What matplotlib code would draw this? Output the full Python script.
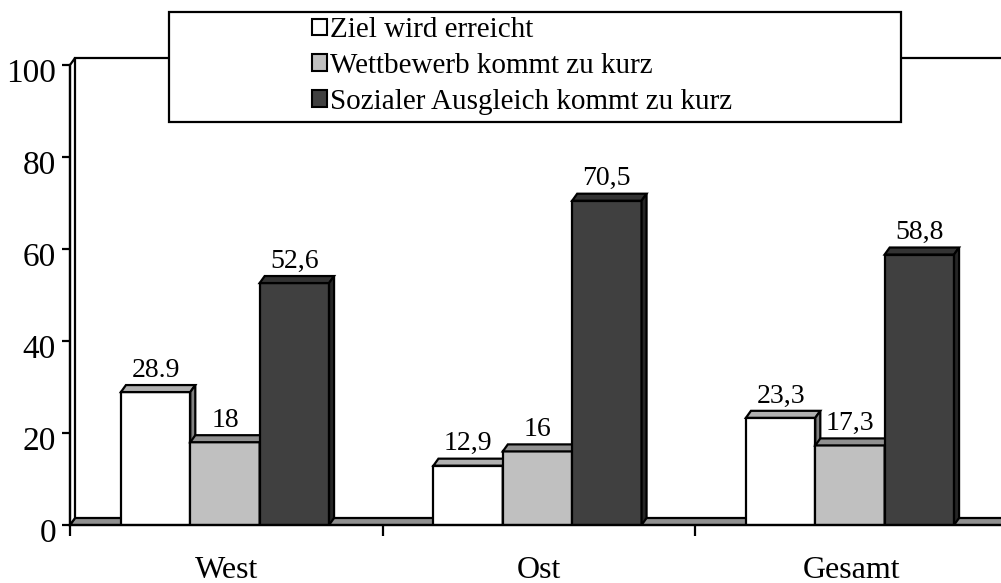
import matplotlib.pyplot as plt
import matplotlib.transforms as mtransforms
from matplotlib.patches import Polygon, Rectangle, Patch

plt.rcParams['font.family'] = ['Liberation Serif', 'DejaVu Serif']

categories = ["West", "Ost", "Gesamt"]
series = ["Ziel wird erreicht", "Wettbewerb kommt zu kurz", "Sozialer Ausgleich kommt zu kurz"]
ziel = [28.9, 12.9, 23.3]
wettbewerb = [18, 16, 17.3]
sozial = [52.6, 70.5, 58.8]
value_labels = [["28.9", "12,9", "23,3"],
                ["18", "16", "17,3"],
                ["52,6", "70,5", "58,8"]]
values = [ziel, wettbewerb, sozial]

front = ["#FFFFFF", "#C0C0C0", "#404040"]
top = ["#B0B0B0", "#909090", "#333333"]
side = ["#808080", "#707070", "#262626"]

W, H = 1001, 583
fig = plt.figure(figsize=(W / 100, H / 100), dpi=100)
# axes: x 0..3 -> px 70..1007.5, y 0..100 -> px 525..65
ax = fig.add_axes([70 / W, (H - 525) / H, 937.5 / W, 460 / H])
ax.set_xlim(0, 3)
ax.set_ylim(0, 100)

dx = 5 / 312.5
dy = 7 / 4.6
bw = 0.222
lw = 1.6

# floor, left wall, back wall top edge
ax.add_patch(Polygon([(0, 0), (3.2, 0), (3.2 + dx, dy), (dx, dy)], closed=True,
                     facecolor="#909090", edgecolor="black", lw=lw, zorder=1, clip_on=False))
ax.add_patch(Polygon([(0, 0), (dx, dy), (dx, 100 + dy), (0, 100)], closed=True,
                     facecolor="white", edgecolor="black", lw=lw, zorder=1, clip_on=False))
ax.plot([dx, 3.2], [100 + dy, 100 + dy], color="black", lw=lw, zorder=1, clip_on=False)

z = 3
for i in range(len(categories)):
    for j in range(len(series)):
        x0 = i + 0.163 + j * bw
        x1 = x0 + bw
        v = values[j][i]
        ax.bar(x0, v, width=bw, align="edge", color=front[j], edgecolor="black",
               lw=lw, zorder=z)
        ax.add_patch(Polygon([(x0, v), (x0 + dx, v + dy), (x1 + dx, v + dy), (x1, v)],
                             closed=True, facecolor=top[j], edgecolor="black", lw=lw, zorder=z))
        ax.add_patch(Polygon([(x1, 0), (x1, v), (x1 + dx, v + dy), (x1 + dx, dy)],
                             closed=True, facecolor=side[j], edgecolor="black", lw=lw, zorder=z))
        ax.text((x0 + x1) / 2, v + dy + 0.5, value_labels[j][i], ha="center", va="bottom",
                fontsize=20, zorder=10)
        z += 1

for s in ["top", "right"]:
    ax.spines[s].set_visible(False)
ax.spines["left"].set_linewidth(lw)
ax.spines["bottom"].set_linewidth(lw)
ax.spines["left"].set_zorder(2)
ax.spines["bottom"].set_zorder(20)

ax.set_yticks(range(0, 101, 20))
ax.tick_params(axis="y", direction="out", length=6, width=lw, labelsize=24, pad=4)
shift = mtransforms.ScaledTranslation(0, -5 / 100, fig.dpi_scale_trans)
for lab in ax.get_yticklabels():
    lab.set_transform(lab.get_transform() + shift)
ax.set_xticks([0, 1, 2, 3])
ax.set_xticklabels([])
ax.tick_params(axis="x", which="major", direction="out", length=8, width=lw)
ax.set_xticks([0.5, 1.5, 2.5], minor=True)
ax.set_xticklabels(categories, minor=True)
ax.tick_params(axis="x", which="minor", length=0, labelsize=23, pad=22)

# legend box
fig.patches.append(Rectangle((169 / W, (H - 122) / H), 732 / W, 110 / H,
                             transform=fig.transFigure, facecolor="white",
                             edgecolor="black", lw=lw, zorder=30))
handles = [Patch(facecolor=front[k], edgecolor="black", lw=1.5) for k in range(3)]
leg = fig.legend(handles, series, loc="center", bbox_to_anchor=(522 / W, (H - 66) / H),
                 frameon=False, fontsize=21, handlelength=0.5, handleheight=0.5,
                 handletextpad=0.1, labelspacing=0.33, borderpad=0)
leg.set_zorder(31)

fig.savefig("out.png", dpi=100)
